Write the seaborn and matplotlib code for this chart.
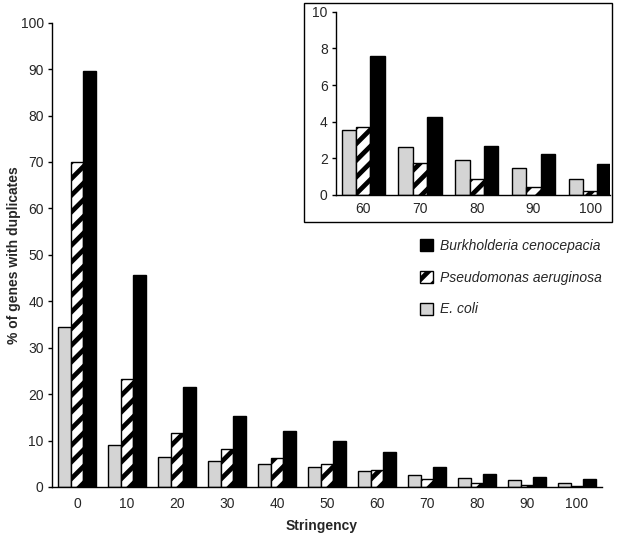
import numpy as np
import pandas as pd
import matplotlib
matplotlib.use('Agg')
import matplotlib.pyplot as plt
from matplotlib.patches import Rectangle
import seaborn as sns

# values
stringency = ['0', '10', '20', '30', '40', '50', '60', '70', '80', '90', '100']
ecoli = [34.4, 9.1, 6.4, 5.5, 4.9, 4.3, 3.55, 2.6, 1.9, 1.5, 0.9]
pseudomonas = [70.0, 23.3, 11.6, 8.2, 6.3, 4.9, 3.7, 1.75, 0.85, 0.45, 0.2]
burkholderia = [89.5, 45.7, 21.6, 15.2, 12.1, 9.9, 7.6, 4.25, 2.7, 2.25, 1.7]
species = ['E. coli', 'Pseudomonas aeruginosa', 'Burkholderia cenocepacia']
colors = ['#d4d4d4', 'white', 'black']
inset_from = 6  # inset zooms on stringency 60..100

df = pd.DataFrame({
    'stringency': stringency * 3,
    'species': [s for s in species for _ in stringency],
    'value': ecoli + pseudomonas + burkholderia,
})

sns.set_style('white')
plt.rcParams['font.family'] = ['Liberation Sans', 'DejaVu Sans']
plt.rcParams['font.size'] = 10
plt.rcParams['hatch.linewidth'] = 3.4
plt.rcParams['axes.linewidth'] = 1.0

fig = plt.figure(figsize=(6.19, 5.36), dpi=100)
W, H = 619, 536


def px_axes(x0, y0, x1, y1):
    # pixel box (top-left origin) -> figure fraction
    return [x0 / W, (H - y1) / H, (x1 - x0) / W, (y1 - y0) / H]


def draw_bars(ax, data, order):
    sns.barplot(data=data, x='stringency', y='value', hue='species',
                order=order, hue_order=species, palette=colors,
                width=0.76, edgecolor='black', linewidth=1.0,
                saturation=1, ax=ax, legend=False)
    for p in ax.containers[1]:
        p.set_hatch('//')
    n = len(order)
    ax.set_xticks(range(n))
    ax.set_xticklabels(order)
    ax.set_xticks(np.arange(-0.5, n), minor=True)
    ax.tick_params(axis='x', which='major', length=0, pad=7, labelsize=10)
    ax.tick_params(axis='x', which='minor', length=4, width=1.0,
                   direction='out', color='black')
    ax.tick_params(axis='y', length=3, width=1.0, direction='out',
                   color='black', pad=3, labelsize=10, left=True)
    for s in ['top', 'right']:
        ax.spines[s].set_visible(False)
    for s in ['left', 'bottom']:
        ax.spines[s].set_color('black')
    ax.set_xlabel('')
    ax.set_ylabel('')


# main chart
ax = fig.add_axes(px_axes(52, 22.7, 602, 487))
draw_bars(ax, df, stringency)
ax.set_xlim(-0.5, 10.5)
ax.set_ylim(0, 100)
ax.set_yticks(range(0, 101, 10))
ax.set_xlabel('Stringency', fontweight='bold', fontsize=10)
ax.xaxis.set_label_coords(0.49, -0.068)
ax.set_ylabel('% of genes with duplicates', fontweight='bold', fontsize=10)
ax.yaxis.set_label_coords(-0.057, 0.5)

# legend, top entry first
handles = [ax.containers[i] for i in (2, 1, 0)]
labels = [species[i] for i in (2, 1, 0)]
leg = fig.legend(handles, labels, loc='upper left',
                 bbox_to_anchor=(413 / W, 1 - 232 / H), frameon=False,
                 borderpad=0, handlelength=0.95, handleheight=0.95,
                 handletextpad=0.5, labelspacing=1.28,
                 prop={'style': 'italic', 'size': 10})

# inset box
fig.patches.append(Rectangle((304 / W, (H - 222) / H), 308 / W, 219 / H,
                             transform=fig.transFigure, fill=False,
                             edgecolor='black', linewidth=1.0))

inset_order = stringency[inset_from:]
ax2 = fig.add_axes(px_axes(336, 11.7, 610, 195))
draw_bars(ax2, df[df['stringency'].isin(inset_order)], inset_order)
ax2.set_xlim(-0.48, 4.35)
ax2.set_ylim(0, 10)
ax2.set_yticks(range(0, 11, 2))
ax2.tick_params(axis='x', which='major', pad=5)
ax2.patch.set_alpha(0)

fig.savefig('out.png', dpi=100)
